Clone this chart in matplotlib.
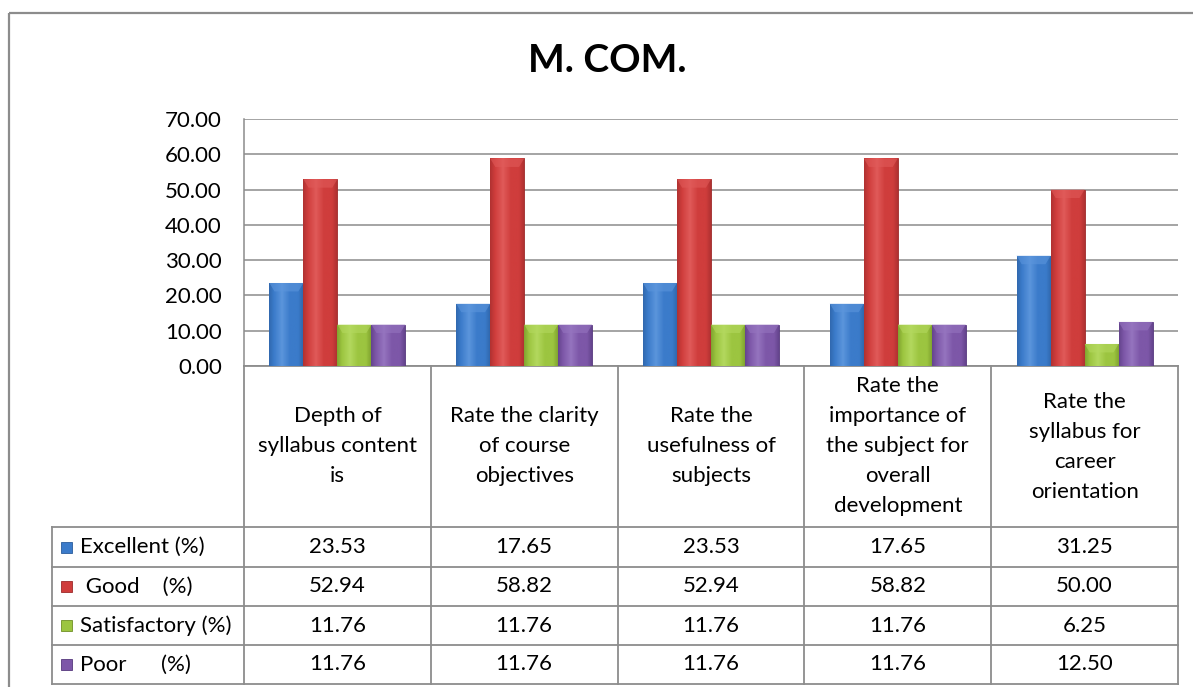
import numpy as np
import matplotlib
matplotlib.use('Agg')
import matplotlib.pyplot as plt
from matplotlib.colors import LinearSegmentedColormap
from matplotlib.patches import Polygon

# 数据
categories = ["Depth of\nsyllabus content\nis",
              "Rate the clarity\nof course\nobjectives",
              "Rate the\nusefulness of\nsubjects",
              "Rate the\nimportance of\nthe subject for\noverall\ndevelopment",
              "Rate the\nsyllabus for\ncareer\norientation"]
series_names = ["Excellent (%)", " Good    (%)", "Satisfactory (%)", "Poor      (%)"]
excellent = [23.53, 17.65, 23.53, 17.65, 31.25]
good = [52.94, 58.82, 52.94, 58.82, 50.00]
satisfactory = [11.76, 11.76, 11.76, 11.76, 6.25]
poor = [11.76, 11.76, 11.76, 11.76, 12.50]
yticks = [0, 10, 20, 30, 40, 50, 60, 70]
title = "M. COM."

series = [excellent, good, satisfactory, poor]
# (深色, 主色, 亮色)
colors = [("#2a5c9c", "#3b7bca", "#5b95dc"),
          ("#9c2a2a", "#cf3d3c", "#e05a59"),
          ("#6f8f25", "#9cc540", "#b3d85e"),
          ("#55387c", "#7d57a8", "#9574bf")]

plt.rcParams['font.family'] = ['Lato', 'DejaVu Sans']
W, H = 1193, 687
grid_col = "#8c8c8c"
fs = 16

fig = plt.figure(figsize=(W / 100, H / 100), dpi=100)

# 画布坐标（像素）用于表格
tab = fig.add_axes([0, 0, 1, 1])
tab.set_xlim(0, W)
tab.set_ylim(H, 0)
tab.axis('off')

# 主图
left, right, top, bottom = 244, 1178, 119, 366
ax = fig.add_axes([left / W, 1 - bottom / H, (right - left) / W, (bottom - top) / H])
ax.patch.set_alpha(0)

n = len(categories)
x = np.arange(n)
bw = 0.182
for k, vals in enumerate(series):
    dark, base, light = colors[k]
    cmap = LinearSegmentedColormap.from_list("c%d" % k, [dark, base, light, base, base, dark])
    xs = x + (k - 1.5) * bw
    bars = ax.bar(xs, vals, width=bw, color=base, edgecolor=dark, linewidth=0.6, zorder=3)
    for rect, v in zip(bars, vals):
        x0 = rect.get_x()
        x1 = x0 + rect.get_width()
        grad = np.linspace(0, 1, 64).reshape(1, -1)
        im = ax.imshow(grad, extent=[x0, x1, 0, v], aspect='auto', cmap=cmap,
                       vmin=-0.1, vmax=1.1, zorder=3.5)
        im.set_clip_path(rect)
        # 顶部斜面
        d = rect.get_width() * 0.15
        dy = 2.4
        top_poly = Polygon([[x0, v], [x1, v], [x1 - d, v - dy], [x0 + d, v - dy]],
                           closed=True, facecolor=light, edgecolor='none', alpha=0.6, zorder=4)
        ax.add_patch(top_poly)

ax.set_xlim(-0.5, n - 0.5)
ax.set_ylim(0, 70)
ax.set_yticks(yticks)
ax.set_yticklabels(["%.2f" % t for t in yticks], fontsize=fs)
ax.tick_params(axis='y', length=0, pad=16)
ax.set_xticks([])
ax.grid(axis='y', color=grid_col, linewidth=1.1, zorder=0)
ax.set_axisbelow(True)
for s in ['top', 'right', 'bottom']:
    ax.spines[s].set_visible(False)
ax.spines['left'].set_color(grid_col)
ax.spines['left'].set_linewidth(1.1)

# 标题
tab.text(607, 61, title, ha='center', va='center', fontsize=28, fontweight='bold')

# 外框
tab.plot([9, W], [13, 13], color=grid_col, lw=1.6, solid_capstyle='butt')
tab.plot([9, 9], [13, H], color=grid_col, lw=1.6, solid_capstyle='butt')

# 表格
col_w = (right - left) / n
col_edges = [left + i * col_w for i in range(n + 1)]
row_edges = [527, 567, 606, 645, 684]
leg_left = 52
lw_t = 1.3
for ce in col_edges:
    tab.plot([ce, ce], [bottom, row_edges[-1]], color=grid_col, lw=lw_t)
tab.plot([left, right], [bottom, bottom], color=grid_col, lw=lw_t)
for re_ in row_edges:
    tab.plot([leg_left, right], [re_, re_], color=grid_col, lw=lw_t)
tab.plot([leg_left, leg_left], [row_edges[0], row_edges[-1]], color=grid_col, lw=lw_t)

# 类别标签
line_h = 30
yc = (bottom + row_edges[0]) / 2
for i, cat in enumerate(categories):
    lines = cat.split("\n")
    cx = (col_edges[i] + col_edges[i + 1]) / 2
    for j, ln in enumerate(lines):
        yy = yc + (j - (len(lines) - 1) / 2) * line_h
        tab.text(cx, yy, ln, ha='center', va='center', fontsize=fs)

# 数据行
for k, vals in enumerate(series):
    dark, base, light = colors[k]
    ry = (row_edges[k] + row_edges[k + 1]) / 2
    tab.add_patch(plt.Rectangle((61, ry - 5.5), 11, 11, facecolor=base, edgecolor=dark, lw=0.6))
    tab.text(80, ry, series_names[k], ha='left', va='center', fontsize=fs)
    for i, v in enumerate(vals):
        cx = (col_edges[i] + col_edges[i + 1]) / 2
        tab.text(cx, ry, "%.2f" % v, ha='center', va='center', fontsize=fs)

plt.savefig("out.png", dpi=100)
